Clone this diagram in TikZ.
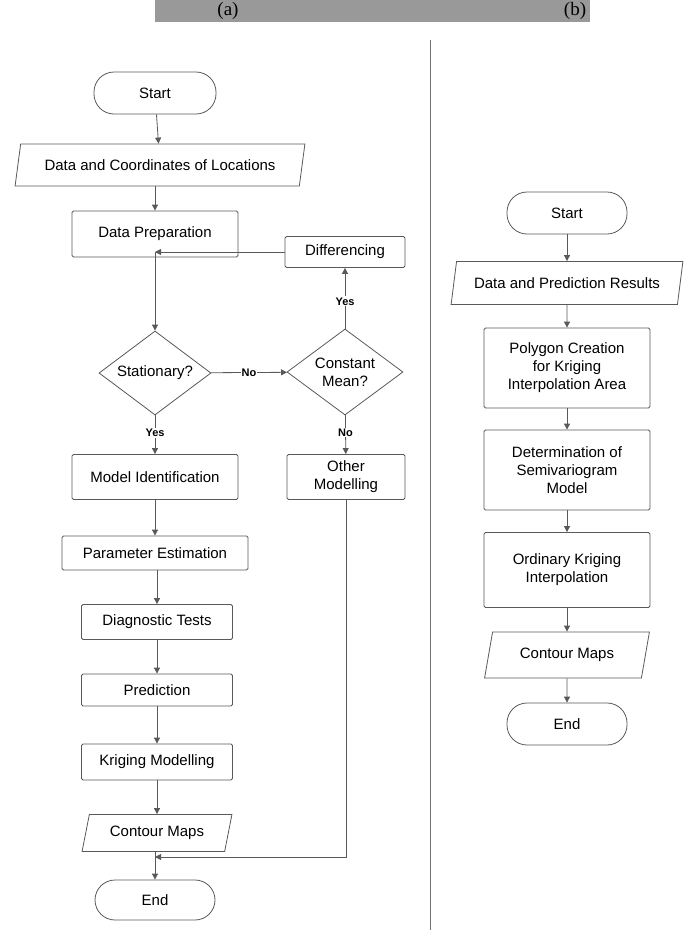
\documentclass[tikz,border=0pt]{standalone}
\usepackage{fontspec}
\setmainfont{Liberation Sans}
\newfontfamily\serif{Liberation Serif}
\usetikzlibrary{shapes.geometric,arrows.meta}

\tikzset{
  box/.style = {draw=black!65, line width=0.8pt, align=center, font=\fontsize{15}{18}\selectfont},
  proc/.style = {box, rectangle, rounded corners=1.5pt},
  term/.style = {box, rectangle, rounded corners=20pt, minimum width=122pt, minimum height=42pt},
  io/.style = {box, trapezium, trapezium left angle=75, trapezium right angle=105, trapezium stretches=true},
  dec/.style = {box, diamond, aspect=1.35, inner sep=1pt},
  flow/.style = {draw=black!65, line width=0.8pt, -{Triangle[length=6pt,width=6pt]}},
  lbl/.style = {font=\bfseries\fontsize{11}{13}\selectfont, fill=white, inner sep=1pt}
}

\begin{document}
\begin{tikzpicture}[x=1pt, y=-1pt]
\useasboundingbox (0,0) rectangle (685,930);
% heading bar
\fill[black!40] (155,0) rectangle (590,22);
\node[font=\serif\fontsize{19}{22}\selectfont] (ta) at (228,11) {(a)};
\node[font=\serif\fontsize{19}{22}\selectfont] (tb) at (575,11) {(b)};
\draw[black!55, line width=0.8pt] (430,40) -- (430,930);

% (a)
\node[term] (startA) at (155,93) {Start};
\node[io, minimum width=290pt, minimum height=42pt] (data) at (160,165) {Data and Coordinates of Locations};
\node[proc, minimum width=166pt, minimum height=46pt] (prep) at (155,234) {Data Preparation};
\node[proc, minimum width=120pt, minimum height=31pt] (diff) at (345,252) {Differencing};
\node[dec, minimum width=112pt, minimum height=84pt] (stat) at (155,373) {Stationary?};
\node[dec, minimum width=116pt, minimum height=86pt] (cmean) at (345,372) {Constant\\Mean?};
\node[proc, minimum width=166pt, minimum height=45pt] (ident) at (155,477) {Model Identification};
\node[proc, minimum width=118pt, minimum height=45pt] (other) at (346,477) {Other\\Modelling};
\node[proc, minimum width=186pt, minimum height=34pt] (param) at (155,553) {Parameter Estimation};
\node[proc, minimum width=151pt, minimum height=35pt] (diag) at (157,622) {Diagnostic Tests};
\node[proc, minimum width=151pt, minimum height=32pt] (pred) at (157,690) {Prediction};
\node[proc, minimum width=151pt, minimum height=36pt] (krig) at (157,762) {Kriging Modelling};
\node[io, minimum width=150pt, minimum height=37pt] (mapsA) at (157,833) {Contour Maps};
\node[term, minimum width=120pt, minimum height=40pt] (endA) at (155,900) {End};
\coordinate (join) at (155,252);
\coordinate (merge) at (155,857);

\draw[flow] (startA) -- (data);
\draw[flow] (data.south -| startA) -- (prep);
\draw[draw=black!65, line width=0.8pt] (prep) -- (join);
\draw[flow] (join) -- (stat);
\draw[flow] (diff) -- (join);
\draw[flow] (stat) -- node[lbl] {No} (cmean);
\draw[flow] (cmean) -- node[lbl, pos=0.45] {Yes} (diff);
\draw[flow] (stat) -- node[lbl, pos=0.45] {Yes} (ident);
\draw[flow] (cmean) -- node[lbl, pos=0.45] {No} (other);
\draw[flow] (ident) -- (param);
\draw[flow] (param.south -| diag) -- (diag);
\draw[flow] (diag) -- (pred);
\draw[flow] (pred) -- (krig);
\draw[flow] (krig) -- (mapsA.north -| krig);
\draw[draw=black!65, line width=0.8pt] (mapsA.south -| merge) -- (merge);
\draw[flow] (merge) -- (endA);
\draw[flow] (other.south) |- (merge);

% (b)
\node[term, minimum width=120pt] (startB) at (567,213) {Start};
\node[io, minimum width=232pt, minimum height=43pt] (dataB) at (567,283) {Data and Prediction Results};
\node[proc, minimum width=166pt, minimum height=80pt] (poly) at (567,368) {Polygon Creation\\for Kriging\\Interpolation Area};
\node[proc, minimum width=166pt, minimum height=80pt] (semi) at (567,470) {Determination of\\Semivariogram\\Model};
\node[proc, minimum width=166pt, minimum height=75pt] (ok) at (567,570) {Ordinary Kriging\\Interpolation};
\node[io, minimum width=165pt, minimum height=46pt] (mapsB) at (567,655) {Contour Maps};
\node[term, minimum width=120pt] (endB) at (567,724) {End};

\draw[flow] (startB) -- (dataB);
\draw[flow] (dataB) -- (poly);
\draw[flow] (poly) -- (semi);
\draw[flow] (semi) -- (ok);
\draw[flow] (ok) -- (mapsB);
\draw[flow] (mapsB) -- (endB);
\end{tikzpicture}
\end{document}
